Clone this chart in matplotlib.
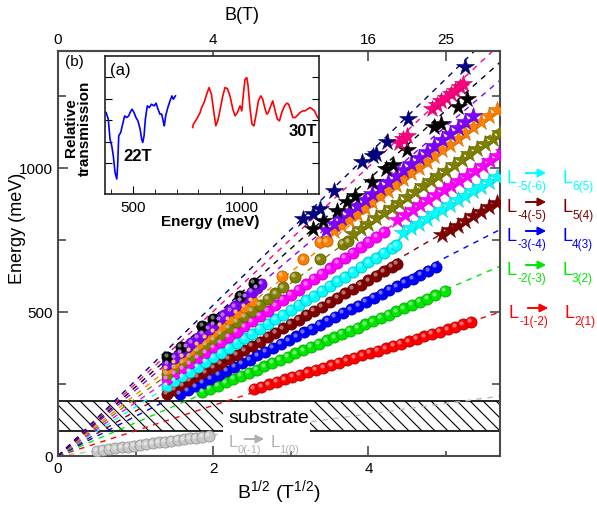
import numpy as np
import matplotlib
matplotlib.use('Agg')
import matplotlib.pyplot as plt
from matplotlib.patches import Rectangle, FancyArrowPatch
from matplotlib.transforms import offset_copy
import matplotlib.colors as mcolors

# ---------------- data (x = B^1/2 in T^1/2, E in meV) ----------------
gray_ball_x = [0.50,0.58,0.66,0.74,0.82,0.90,0.98,1.06,1.14,1.22,1.30,1.38,1.46,1.54,1.62,1.70,1.78,1.86,1.94]
gray_ball_E = [18,21,24,27,30,32,35,38,41,44,47,50,53,56,58,61,64,67,70]

red_ball_x = [2.52,2.62,2.72,2.82,2.92,3.02,3.12,3.22,3.32,3.42,3.52,3.62,3.72,3.82,3.92,4.02,4.12,4.22,4.32,4.42,4.52,4.62,4.72,4.82,4.92,5.02,5.12,5.22,5.32]
red_ball_E = [233,241,249,257,266,274,282,291,299,307,315,324,332,340,349,357,365,374,382,390,398,407,415,423,432,440,448,457,465]

green_ball_x = [1.86,1.96,2.06,2.16,2.26,2.36,2.46,2.56,2.66,2.76,2.86,2.96,3.06,3.16,3.26,3.36,3.46,3.56,3.66,3.76,3.86,3.96,4.06,4.16,4.26,4.36,4.46,4.56,4.66,4.76,4.86,4.98]
green_ball_E = [222,233,244,256,267,278,289,300,311,323,334,345,356,367,378,390,401,412,423,435,446,457,468,479,490,502,513,524,535,546,558,573]

blue_ball_x = [1.57,1.67,1.77,1.87,1.97,2.07,2.17,2.27,2.37,2.47,2.57,2.67,2.77,2.87,2.97,3.07,3.17,3.27,3.37,3.47,3.57,3.67,3.77,3.87,3.97,4.07,4.17,4.27,4.37,4.47,4.57,4.67,4.77,4.87]
blue_ball_E = [215,228,242,255,268,282,295,309,322,335,349,362,375,389,402,416,429,442,456,469,482,496,509,522,536,549,563,576,589,603,616,629,643,656]

maroon_ball_x = [1.40,1.50,1.60,1.70,1.80,1.90,2.00,2.10,2.20,2.30,2.40,2.50,2.60,2.70,2.80,2.90,3.00,3.10,3.20,3.30,3.40,3.50,3.60,3.70,3.80,3.90,4.00,4.10,4.20,4.30,4.37]
maroon_ball_E = [215,230,245,261,276,291,306,321,337,352,367,382,397,413,428,443,458,473,489,504,519,534,549,565,580,595,610,625,641,656,666]
maroon_star_x = [4.95,5.05,5.15,5.25,5.35,5.45,5.55,5.65]
maroon_star_E = [768,784,800,816,832,848,864,880]

cyan_ball_x = [1.40,1.50,1.60,1.70,1.80,1.90,2.00,2.10,2.20,2.30,2.40,2.50,2.60,2.70,2.80,2.90,3.00,3.10,3.20,3.30,3.40,3.50,3.60,3.70,3.80,3.90,4.00,4.10,4.20,4.30,4.36]
cyan_ball_E = [243,260,276,293,309,326,342,359,375,392,408,425,441,458,474,491,507,524,540,557,573,590,606,623,639,656,672,689,705,722,731]
cyan_star_x = [4.45,4.55,4.65,4.75,4.85,4.95,5.05,5.15,5.25,5.35,5.45,5.55,5.65]
cyan_star_E = [775,791,807,823,839,855,871,887,903,919,935,951,967]

magenta_ball_x = [1.40,1.50,1.60,1.70,1.80,1.90,2.00,2.10,2.20,2.30,2.40,2.50,2.60,2.70,2.80,2.90,3.00,3.10,3.20,3.30,3.40,3.50,3.60,3.70,3.80,3.90,4.00,4.10,4.20]
magenta_ball_E = [267,285,304,322,340,359,377,395,413,432,450,468,487,505,523,542,560,578,596,615,633,651,670,688,706,725,743,761,779]
magenta_star_x = [4.37,4.47,4.57,4.67,4.77,4.87,4.97,5.07,5.17,5.27,5.37,5.47,5.57,5.67,5.75]
magenta_star_E = [820,837,854,871,888,905,922,939,956,973,990,1007,1024,1041,1055]

olive_ball_x = [1.40,1.50,1.60,1.70,1.80,1.90,2.00,2.10,2.20,2.30,2.40,2.50,2.60,2.70,2.80,2.90,3.05,3.37,3.67,3.74]
olive_ball_E = [285,305,325,345,365,385,405,425,445,465,485,505,525,545,565,585,621,683,736,745]
olive_star_x = [3.80,3.90,4.00,4.10,4.20,4.30,4.40,4.50,4.60,4.70,4.80,4.90,5.00,5.10,5.20,5.30,5.40,5.50,5.60,5.70]
olive_star_E = [769,788,806,825,843,862,880,899,917,936,954,973,991,1010,1028,1047,1065,1084,1102,1121]

orange_ball_x = [1.40,1.50,1.60,1.70,1.80,1.90,2.00,2.10,2.20,2.30,2.40,2.50,2.88,3.16,3.38,3.46]
orange_ball_E = [302,324,345,367,388,410,431,453,474,496,517,539,625,683,743,745]
orange_star_x = [3.55,3.65,3.75,3.85,3.95,4.05,4.15,4.25,4.35,4.45,4.55,4.65,4.75,4.85,4.95,5.05,5.15,5.25,5.35,5.45,5.55,5.65]
orange_star_E = [781,801,821,841,861,881,901,921,941,961,981,1001,1021,1041,1061,1081,1101,1121,1141,1161,1181,1201]

purple_ball_x = [1.41,1.50,1.58,1.66,1.72,1.80,1.86,1.94,2.00,2.08,2.14,2.22,2.28,2.36,2.42,2.50,2.56,2.62]
purple_ball_E = [320,341,360,378,392,410,424,442,456,474,488,506,520,538,552,570,584,598]
purple_star_x = [3.45,3.55,3.65,3.75,3.85,3.95,4.05,4.15,4.25,4.35,4.45,4.55,4.65,4.75,4.85,4.95,5.05,5.15,5.25,5.35]
purple_star_E = [785,806,827,847,868,889,910,931,951,972,993,1014,1035,1055,1076,1097,1118,1139,1159,1180]

black_ball_x = [1.41,1.58,1.86,2.00,2.35,2.52]
black_ball_E = [344,378,451,476,555,601]
black_star_x = [3.29,3.42,3.60,3.73,3.83,4.05,4.22,4.32,4.50,4.84,4.93,5.16,5.27]
black_star_E = [788,816,851,881,903,950,997,1010,1062,1142,1153,1212,1240]

pink_star_x = [4.40,4.45,4.50,4.82,4.88,4.94,5.00,5.06,5.12,5.18,5.22]
pink_star_E = [1088,1100,1112,1205,1218,1232,1244,1256,1268,1280,1290]

navy_star_x = [3.16,3.28,3.38,3.55,3.92,4.06,4.10,4.24,4.51,5.25]
navy_star_E = [823,840,857,920,1020,1042,1050,1090,1170,1350]

# slopes of the dashed fits (meV per T^1/2)
series_names  = ['gray','red','green','blue','maroon','cyan','magenta','olive','orange','purple','black','pink','navy']
series_colors = ['#c4c4c4','#ff0000','#00e600','#0000ff','#800000','#00ffff','#ff00ff','#808000','#ff8000','#8000ff','#000000','#ff0080','#000080']
fit_slopes    = [36.5, 87.7, 115.7, 138, 156, 171, 186, 200, 213, 229, 240, 251, 262]

# transition labels on the right
label_sub_from = ['-5(-6)', '-4(-5)', '-3(-4)', '-2(-3)', '-1(-2)']
label_sub_to   = ['6(5)', '5(4)', '4(3)', '3(2)', '2(1)']
label_colors   = ['#00ffff', '#800000', '#0000ff', '#00e600', '#ff0000']

# inset spectra
inset_blue_E = [377,387,395,403,410,418,426,430,435,444,453,462,471,481,487,496,505,514,523,533,540,545,551,557,566,575,585,597,606,615,624,632,640,644,650,660,670,679,685,695]
inset_blue_T = [2.60,2.40,1.80,1.60,1.30,0.80,0.60,1.00,1.90,2.00,2.25,2.50,2.45,2.50,2.60,2.70,2.60,2.45,2.35,2.10,1.80,1.70,1.90,2.40,2.80,2.75,2.85,2.80,2.88,2.70,2.55,2.55,2.30,2.20,2.50,2.75,2.95,3.10,3.00,3.10]
inset_red_E = [774,777,792,808,815,826,838,849,860,869,880,889,900,912,922,933,945,958,968,979,991,999,1007,1014,1022,1028,1037,1046,1055,1065,1075,1086,1095,1106,1114,1121,1132,1141,1152,1162,1172,1182,1195,1205,1214,1224,1233,1244,1252,1266,1279,1289,1300,1312,1323,1332,1343,1352]
inset_red_T = [2.15,2.25,2.40,2.60,2.75,2.90,3.15,3.35,3.15,2.70,2.20,2.35,2.70,3.10,3.35,3.32,3.10,2.70,2.50,2.60,2.80,2.65,3.20,3.60,3.65,3.40,2.70,2.25,2.20,2.55,2.95,3.10,3.00,2.70,2.55,2.60,2.80,2.95,2.65,2.40,2.35,2.60,2.80,2.88,2.85,2.65,2.45,2.45,2.50,2.60,2.65,2.65,2.70,2.75,2.70,2.65,2.50,2.40]

bottom_ticks = [0, 2, 4]
top_tick_B = ['0', '4', '16', '25']
top_tick_pos = [0, 2, 4, 5]
left_ticks = [0, 500, 1000]
substrate_lo, substrate_hi = 87, 191

# ---------------- style ----------------
plt.rcParams['font.family'] = ['Liberation Sans', 'DejaVu Sans']
plt.rcParams['mathtext.fontset'] = 'custom'
plt.rcParams['mathtext.rm'] = 'Liberation Sans'
plt.rcParams['mathtext.it'] = 'Liberation Sans:italic'
plt.rcParams['mathtext.bf'] = 'Liberation Sans:bold'

W, H = 597, 506
fig = plt.figure(figsize=(W/100, H/100), dpi=100)
ax = fig.add_axes([58/W, (H-457)/H, 442/W, 405/H])
XMAX, YMAX = 5.695, 1406
ax.set_xlim(0, XMAX)
ax.set_ylim(0, YMAX)

spine_c = '#4a4a4a'
for s in ax.spines.values():
    s.set_color(spine_c)
    s.set_linewidth(1.5)

ax.set_xticks(bottom_ticks)
ax.set_xticks([1, 3, 5], minor=True)
ax.set_yticks(left_ticks)
ax.set_yticks([250, 750, 1250], minor=True)
ax.tick_params(axis='both', which='both', direction='in', right=True, labelsize=11, color=spine_c, width=1.2)
ax.tick_params(axis='x', which='major', length=7)
ax.tick_params(axis='x', which='minor', length=3.5)
ax.tick_params(axis='y', which='major', length=7)
ax.tick_params(axis='y', which='minor', length=6)

sec = ax.secondary_xaxis('top')
sec.set_xticks(top_tick_pos, labels=top_tick_B)
sec.tick_params(direction='in', length=7, labelsize=11, color=spine_c, width=1.2)
sec.spines['top'].set_color(spine_c)
sec.spines['top'].set_linewidth(1.5)

# dashed fits
for name, c, s in zip(series_names, series_colors, fit_slopes):
    lc = '#bbbbbb' if name == 'gray' else c
    ax.plot([0, XMAX], [0, s*XMAX], color=lc, lw=1.0, ls=(0, (4, 4)), zorder=2)

# substrate box with manual hatch
rect = Rectangle((0, substrate_lo), XMAX, substrate_hi-substrate_lo, fill=False,
                 edgecolor='black', lw=1.2, zorder=1.8)
ax.add_patch(rect)
px_per_x = 442 / XMAX
px_per_E = 405 / YMAX
dx = (substrate_hi-substrate_lo) * px_per_E / px_per_x
step = 13 / px_per_x
for x0 in np.arange(-dx, XMAX + step, step):
    ln, = ax.plot([x0, x0+dx], [substrate_hi, substrate_lo], color='black', lw=0.8, zorder=1.7)
    ln.set_clip_path(rect)

# white patch behind "substrate" text
ax.add_patch(Rectangle((2.12, 20), 1.13, substrate_hi-2-20, facecolor='white', edgecolor='none', zorder=4))
ax.text(2.72, 135, 'substrate', fontsize=14, ha='center', va='center', zorder=5)

def darker(c, f=0.6):
    r, g, b = mcolors.to_rgb(c)
    return (r*f, g*f, b*f)

def lighter(c, f=0.6):
    r, g, b = mcolors.to_rgb(c)
    return (r + (1-r)*f, g + (1-g)*f, b + (1-b)*f)

hl_tr = offset_copy(ax.transData, fig=fig, x=-1.2, y=1.2, units='points')

def balls(x, E, c):
    if not x:
        return
    ax.plot(x, E, 'o', ms=8, mfc=c, mec=darker(c, 0.75), mew=0.6, ls='none', zorder=3)
    ax.plot(x, E, 'o', ms=3.0, mfc=lighter(c, 0.45), mec='none', ls='none', zorder=3.1, transform=hl_tr)

def stars(x, E, c):
    if not x:
        return
    ax.plot(x, E, '*', ms=13, mfc=c, mec=darker(c, 0.8), mew=0.4, ls='none', zorder=3)

balls(gray_ball_x, gray_ball_E, '#c8c8c8')
balls(red_ball_x, red_ball_E, '#ff0000')
balls(green_ball_x, green_ball_E, '#00e600')
balls(blue_ball_x, blue_ball_E, '#0000ff')
balls(maroon_ball_x, maroon_ball_E, '#800000')
stars(maroon_star_x, maroon_star_E, '#800000')
balls(cyan_ball_x, cyan_ball_E, '#00ffff')
stars(cyan_star_x, cyan_star_E, '#00ffff')
balls(magenta_ball_x, magenta_ball_E, '#ff00ff')
stars(magenta_star_x, magenta_star_E, '#ff00ff')
balls(olive_ball_x, olive_ball_E, '#808000')
stars(olive_star_x, olive_star_E, '#808000')
balls(orange_ball_x, orange_ball_E, '#ff8000')
stars(orange_star_x, orange_star_E, '#ff8000')
balls(purple_ball_x, purple_ball_E, '#8000ff')
stars(purple_star_x, purple_star_E, '#8000ff')
balls(black_ball_x, black_ball_E, '#000000')
stars(black_star_x, black_star_E, '#000000')
stars(pink_star_x, pink_star_E, '#ff0080')
stars(navy_star_x, navy_star_E, '#000080')

# axis labels
fig.text(279/W, 1-492/H, r'B$^{1/2}$ (T$^{1/2}$)', fontsize=14, ha='center', va='center')
fig.text(18/W, 1-228/H, 'Energy (meV)', fontsize=13, ha='center', va='center', rotation=90)
fig.text(242/W, 1-15/H, 'B(T)', fontsize=13, ha='center', va='center')
fig.text(65/W, 1-62/H, '(b)', fontsize=11, ha='left', va='center')

def trans_label(x0, ybase, sub1, sub2, color, fs=13, sfs=8.5, sub_dx=10, sub_dy=7,
                ar0=16, ar1=42, ar_dy=9, l2=56):
    def T(x, y, s, size):
        fig.text(x/W, 1-y/H, s, color=color, fontsize=size, ha='left', va='baseline', zorder=6)
    T(x0, ybase, 'L', fs)
    T(x0+sub_dx, ybase+sub_dy, sub1, sfs)
    T(x0+l2, ybase, 'L', fs)
    T(x0+l2+sub_dx-1, ybase+sub_dy, sub2, sfs)
    ya = H - (ybase - ar_dy)
    fig.add_artist(FancyArrowPatch((x0+ar0, ya), (x0+ar1, ya), transform=None,
                   arrowstyle='-|>', mutation_scale=12, color=color, lw=1.4, zorder=6))

label_baselines = [183, 212, 241, 275, 318]
label_x = [507, 507, 507, 507, 509]
for s1, s2, c, yb, xl in zip(label_sub_from, label_sub_to, label_colors, label_baselines, label_x):
    trans_label(xl, yb, s1, s2, c)
trans_label(229, 447, '0(-1)', '1(0)', '#b0b0b0', fs=12, sfs=8, sub_dx=9, sub_dy=6,
            ar0=13, ar1=38, ar_dy=7, l2=42)

# ---------------- inset ----------------
ins = fig.add_axes([105/W, (H-195)/H, 214/W, 138/H])
ins.plot(inset_blue_E, inset_blue_T, color='#0000ff', lw=1.2)
ins.plot(inset_red_E, inset_red_T, color='#ff0000', lw=1.2)
ins.set_xlim(372, 1353)
ins.set_ylim(0.15, 4.30)
ins.set_xticks([500, 1000])
ins.set_xticks([400, 600, 700, 800, 900, 1100, 1200, 1300], minor=True)
ins.set_yticks([1.07, 1.72, 2.37, 3.02, 3.67])
ins.tick_params(axis='both', which='both', direction='in', labelsize=11, right=True, labelleft=False)
ins.tick_params(axis='x', which='major', length=6, pad=4)
ins.tick_params(axis='x', which='minor', length=3.5)
ins.tick_params(axis='y', length=5)
for s in ins.spines.values():
    s.set_linewidth(1.2)
    s.set_color('#222222')
ins.text(0.025, 0.905, '(a)', transform=ins.transAxes, fontsize=12, ha='left', va='center')
ins.text(523, 1.3, '22T', fontsize=12, fontweight='bold', ha='center', va='center')
ins.text(1280, 2.05, '30T', fontsize=12, fontweight='bold', ha='center', va='center')
fig.text(78/W, 1-128/H, 'Relative\ntransmission', fontsize=11, fontweight='bold', ha='center',
         va='center', rotation=90, linespacing=1.0)
fig.text(210/W, 1-222/H, 'Energy (meV)', fontsize=11, fontweight='bold', ha='center', va='center')

fig.savefig('out.png', dpi=100)
